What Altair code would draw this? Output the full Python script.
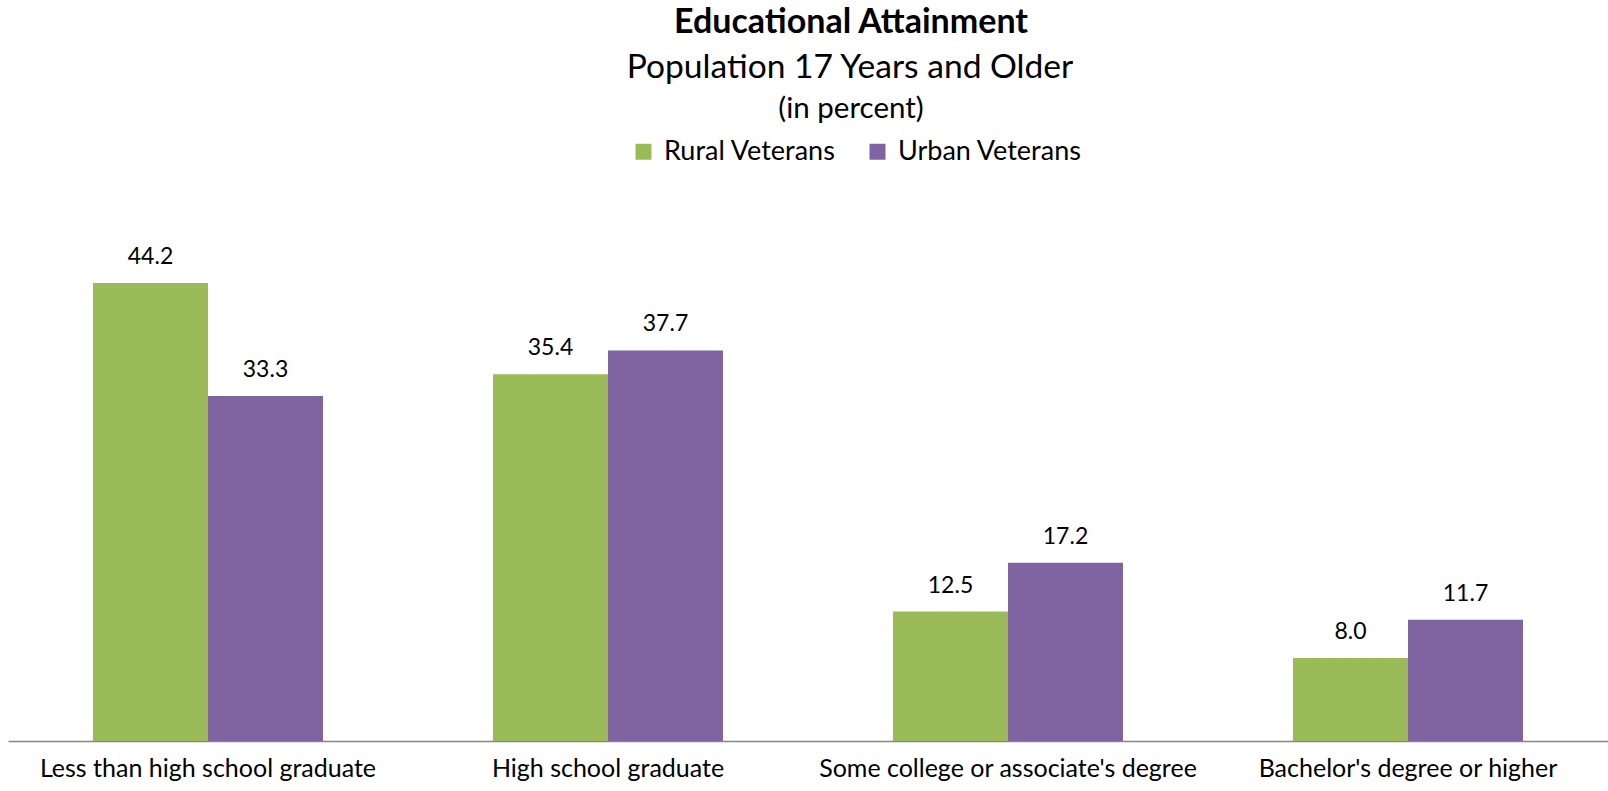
import altair as alt
import pandas as pd

categories = ["Less than high school graduate", "High school graduate",
              "Some college or associate's degree", "Bachelor's degree or higher"]
series = ["Rural Veterans", "Urban Veterans"]
rural = [44.2, 35.4, 12.5, 8.0]
urban = [33.3, 37.7, 17.2, 11.7]
colors = ["#9BBB59", "#8064A2"]
title_lines = ["Educational Attainment", "Population 17 Years and Older", "(in percent)"]

rows = []
for c, r, u in zip(categories, rural, urban):
    rows.append({"Category": c, "Series": series[0], "Value": r})
    rows.append({"Category": c, "Series": series[1], "Value": u})
df = pd.DataFrame(rows)

FONT = "Lato"

x = alt.X("Category:N", sort=categories,
          scale=alt.Scale(paddingInner=0.425, paddingOuter=0.2125),
          axis=alt.Axis(title=None, labelAngle=0, labelFontSize=25, labelFont=FONT,
                        labelColor="#000000", ticks=False, domainColor="#868686",
                        domainWidth=1.5, labelPadding=35, labelBaseline="alphabetic",
                        labelLimit=500))
xo = alt.XOffset("Series:N", sort=series, scale=alt.Scale(paddingInner=0, paddingOuter=0))
y = alt.Y("Value:Q", scale=alt.Scale(domain=[0, 50]), axis=None)

bars = alt.Chart(df).mark_bar().encode(
    x=x, xOffset=xo, y=y,
    color=alt.Color("Series:N", sort=series,
                    scale=alt.Scale(domain=series, range=colors),
                    legend=alt.Legend(title=None, orient="none", direction="horizontal",
                                      legendX=622, legendY=-85, padding=0,
                                      symbolType="square", symbolSize=256,
                                      symbolStrokeWidth=0, symbolOpacity=1,
                                      labelFontSize=27, labelFont=FONT,
                                      labelColor="#000000", labelOffset=7,
                                      columnPadding=28, labelLimit=400))
)

labels = alt.Chart(df).mark_text(font=FONT, fontSize=23, color="#000000",
                                 baseline="alphabetic", dy=-19).encode(
    x=alt.X("Category:N", sort=categories), xOffset=xo, y=y,
    text=alt.Text("Value:Q", format=".1f")
)

tdf = pd.DataFrame({"t": title_lines})
t1 = alt.Chart(tdf.iloc[[0]]).mark_text(
    font=FONT, fontSize=34, fontWeight="bold", color="#000000",
    baseline="alphabetic", align="center"
).encode(x=alt.value(843), y=alt.value(-190), text="t:N")
t2 = alt.Chart(tdf.iloc[[1]]).mark_text(
    font=FONT, fontSize=33.6, color="#000000", baseline="alphabetic", align="center"
).encode(x=alt.value(842), y=alt.value(-145), text="t:N")
t3 = alt.Chart(tdf.iloc[[2]]).mark_text(
    font=FONT, fontSize=29.5, color="#000000", baseline="alphabetic", align="center"
).encode(x=alt.value(843), y=alt.value(-105), text="t:N")

chart = alt.layer(bars, labels, t1, t2, t3).properties(
    width=1600, height=518,
    background="white",
    autosize=alt.AutoSizeParams(type="none"),
    padding={"left": 8, "top": 223, "right": 0, "bottom": 50},
).configure_view(strokeWidth=0, stroke=None)

chart.save("out.html", embed_options={"renderer": "svg", "actions": False})
